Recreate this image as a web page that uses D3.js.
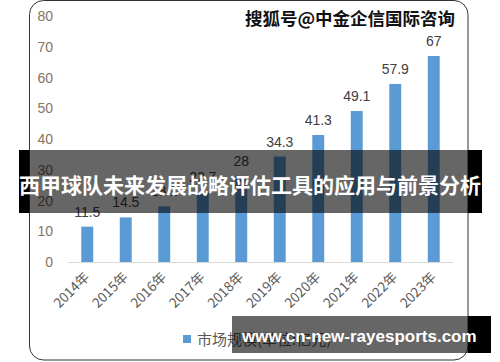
<!DOCTYPE html>
<html><head><meta charset="utf-8">
<script src="https://cdn.jsdelivr.net/npm/d3@7"></script>
<style>html,body{margin:0;padding:0;background:#fff;}svg{display:block;}</style>
</head><body>
<svg id="c" width="500" height="362"></svg>
<script>
const years = ["2014年","2015年","2016年","2017年","2018年","2019年","2020年","2021年","2022年","2023年"];
const values = [11.5, 14.5, 18.1, 22.7, 28, 34.3, 41.3, 49.1, 57.9, 67];
const yTicks = [0, 10, 20, 30, 40, 50, 60, 70, 80];
const legendLabel = "市场规模(单位:亿元)";
const watermark = "搜狐号@中金企信国际咨询";
const title = "西甲球队未来发展战略评估工具的应用与前景分析";
const url = "www.cn-new-rayesports.com";

const svg = d3.select("#c");
const cjk = "'Noto Sans CJK SC', sans-serif";

svg.append("rect").attr("width",500).attr("height",362).attr("fill","#fff");
svg.append("rect").attr("x",29.5).attr("y",0.5).attr("width",438.5).attr("height",359.5)
  .attr("rx",14).attr("fill","#fff").attr("stroke","#333").attr("stroke-width",1);

const x = d3.scaleBand().domain(years).range([68,453]).paddingInner(0.69).paddingOuter(0.345);
const y = d3.scaleLinear().domain([0,80]).range([262,16]);

// baseline
svg.append("line").attr("x1",68).attr("x2",453).attr("y1",y(0)+0.5).attr("y2",y(0)+0.5)
  .attr("stroke","#d9d9d9").attr("stroke-width",1);

// bars
svg.selectAll("rect.bar").data(values).enter().append("rect").attr("class","bar")
  .attr("x",(d,i)=>x(years[i])).attr("width",x.bandwidth())
  .attr("y",d=>y(d)).attr("height",d=>y(0)-y(d)).attr("fill","#5b9bd5");

// value labels
svg.selectAll("text.val").data(values).enter().append("text").attr("class","val")
  .attr("x",(d,i)=>x(years[i])+x.bandwidth()/2).attr("y",d=>y(d)-10)
  .attr("text-anchor","middle").attr("font-family","'Liberation Sans', sans-serif")
  .attr("font-size",14).attr("fill","#404040").text(d=>d);

// y axis labels
svg.selectAll("text.yt").data(yTicks).enter().append("text").attr("class","yt")
  .attr("x",53).attr("y",d=>y(d)+5).attr("text-anchor","end")
  .attr("font-family","'Liberation Sans', sans-serif").attr("font-size",14)
  .attr("fill","#857462").text(d=>d);

// x axis labels
svg.selectAll("text.xt").data(years).enter().append("text").attr("class","xt")
  .attr("transform",d=>`translate(${x(d)+x.bandwidth()/2+3},278) rotate(-45)`)
  .attr("text-anchor","end").attr("font-family",cjk).attr("font-size",13.5)
  .attr("fill","#595959").text(d=>d);

// legend
svg.append("rect").attr("x",183).attr("y",335).attr("width",8).attr("height",8).attr("fill","#5b9bd5");
svg.append("text").attr("x",197).attr("y",344.5).attr("font-family",cjk).attr("font-size",15)
  .attr("fill","#595959").text(legendLabel);

// watermark
svg.append("text").attr("x",245).attr("y",25).attr("font-family",cjk).attr("font-weight","bold")
  .attr("font-size",17.5).attr("fill","#111").text(watermark);

// title banner
svg.append("rect").attr("x",19).attr("y",150).attr("width",10).attr("height",63).attr("fill","#000");
svg.append("rect").attr("x",468).attr("y",150).attr("width",14).attr("height",63).attr("fill","#000");
svg.append("rect").attr("x",29).attr("y",150).attr("width",439).attr("height",63).attr("fill","#000").attr("fill-opacity",0.6);
svg.append("text").attr("x",250).attr("y",192.5).attr("text-anchor","middle")
  .attr("font-family",cjk).attr("font-weight","bold").attr("font-size",21).attr("fill","#fff").text(title);

// url banner
svg.append("rect").attr("x",232).attr("y",316).attr("width",236).attr("height",37).attr("fill","#000").attr("fill-opacity",0.6);
svg.append("rect").attr("x",468).attr("y",316).attr("width",23).attr("height",37).attr("fill","#000");
svg.append("text").attr("x",242).attr("y",342).attr("font-family","'Liberation Sans', sans-serif")
  .attr("font-weight","bold").attr("font-size",17).attr("fill","#fff").text(url);
</script>
</body></html>
